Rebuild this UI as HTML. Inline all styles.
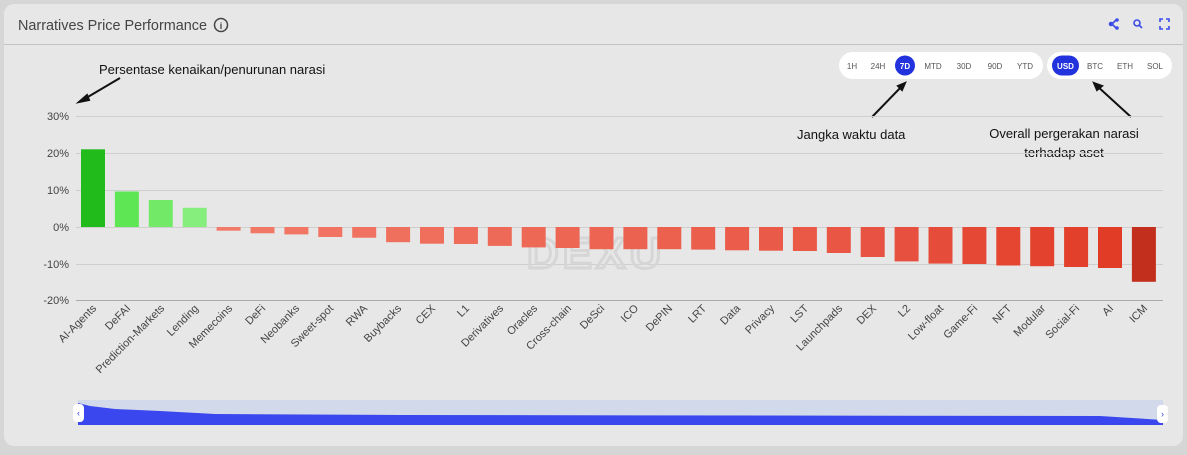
<!DOCTYPE html>
<html><head><meta charset="utf-8"><style>
body{margin:0;background:#d6d6d6;width:1187px;height:450px;overflow:hidden;font-family:"Liberation Sans",sans-serif}
</style></head><body>
<svg width="1187" height="450" viewBox="0 0 1187 450" xmlns="http://www.w3.org/2000/svg" font-family="Liberation Sans, sans-serif">
<rect x="4" y="4" width="1179" height="442" rx="10" fill="#e7e7e7"/>
<line x1="4" y1="44.5" x2="1183" y2="44.5" stroke="#c4c4c4"/>
<text x="18" y="30" font-size="15" fill="#444" textLength="189" lengthAdjust="spacingAndGlyphs">Narratives Price Performance</text>
<circle cx="221" cy="25" r="6.5" fill="none" stroke="#444" stroke-width="1.5"/>
<text x="221" y="29" font-size="9" font-weight="bold" text-anchor="middle" fill="#444">i</text>
<g stroke="#3b4be8" stroke-width="1.6" fill="none">
<circle cx="1111" cy="24" r="1.5" fill="#3b4be8"/><path d="M1112 24 L1116 20 M1112 24 L1116 28"/><circle cx="1117" cy="20" r="1"/><circle cx="1117" cy="28" r="1"/>
<circle cx="1137" cy="23" r="3"/><path d="M1139 25 L1142 28"/>
<path d="M1160 22v-3h3 M1166 19h3v3 M1169 26v3h-3 M1163 29h-3v-3"/>
</g>
<rect x="839" y="52" width="204" height="27" rx="13.5" fill="#fff"/>
<g font-size="8" fill="#555" text-anchor="middle">
<text x="852" y="69">1H</text><text x="878" y="69">24H</text>
<circle cx="905" cy="65.5" r="10" fill="#2233dd"/><text x="905" y="69" fill="#fff" font-weight="bold">7D</text>
<text x="933" y="69">MTD</text><text x="964" y="69">30D</text><text x="995" y="69">90D</text><text x="1025" y="69">YTD</text>
</g>
<rect x="1047" y="52" width="125" height="27" rx="13.5" fill="#fff"/>
<g font-size="8" fill="#555" text-anchor="middle">
<rect x="1052" y="55.5" width="27" height="20" rx="10" fill="#2233dd"/><text x="1065.5" y="69" fill="#fff" font-weight="bold">USD</text>
<text x="1095" y="69">BTC</text><text x="1125" y="69">ETH</text><text x="1155" y="69">SOL</text>
</g>
<text x="99" y="74" font-size="13" fill="#111">Persentase kenaikan/penurunan narasi</text>
<path d="M120 78 L81 101" stroke="#111" stroke-width="2"/><path d="M79 102 L87 95 L89 100Z" fill="#111" stroke="#111" stroke-width="2"/>
<text x="797" y="139" font-size="13" fill="#111">Jangka waktu data</text>
<path d="M872 117 L903 85" stroke="#111" stroke-width="2"/><path d="M905 83 L898 86 L902 90Z" fill="#111" stroke="#111" stroke-width="2"/>
<text x="1064" y="138" font-size="13" fill="#111" text-anchor="middle">Overall pergerakan narasi</text>
<text x="1064" y="157" font-size="13" fill="#111" text-anchor="middle">terhadap aset</text>
<path d="M1131 117 L1096 85" stroke="#111" stroke-width="2"/><path d="M1094 83 L1102 86 L1097 90Z" fill="#111" stroke="#111" stroke-width="2"/>
<g stroke="#cfcfcf" stroke-width="1">
<line x1="76" y1="116.5" x2="1163" y2="116.5"/><line x1="76" y1="153.5" x2="1163" y2="153.5"/>
<line x1="76" y1="190.5" x2="1163" y2="190.5"/><line x1="76" y1="227.5" x2="1163" y2="227.5"/>
<line x1="76" y1="264.5" x2="1163" y2="264.5"/>
</g>
<line x1="76" y1="300.5" x2="1163" y2="300.5" stroke="#aaa"/>
<g font-size="11" fill="#444" text-anchor="end">
<text x="69" y="120">30%</text><text x="69" y="157">20%</text><text x="69" y="194">10%</text>
<text x="69" y="231">0%</text><text x="69" y="268">-10%</text><text x="69" y="304">-20%</text>
</g>
<text x="596" y="268" font-size="44" font-weight="bold" fill="none" stroke="#d6d6d6" stroke-width="3" text-anchor="middle" letter-spacing="4">DEXU</text>
<rect x="81" y="149.3" width="24" height="77.7" fill="#22bb1c"/>
<rect x="114.9" y="191.5" width="24" height="35.5" fill="#5ee655"/>
<rect x="148.8" y="200" width="24" height="27" fill="#72ea68"/>
<rect x="182.7" y="207.8" width="24" height="19.2" fill="#86ee7c"/>
<g>
<rect x="216.6" y="227" width="24" height="3.7" fill="#f27a68"/>
<rect x="250.5" y="227" width="24" height="6.3" fill="#f27866"/>
<rect x="284.4" y="227" width="24" height="7.4" fill="#f17664"/>
<rect x="318.3" y="227" width="24" height="10" fill="#f17462"/>
<rect x="352.2" y="227" width="24" height="10.7" fill="#f07260"/>
<rect x="386.1" y="227" width="24" height="15.2" fill="#f0705e"/>
<rect x="420" y="227" width="24" height="16.7" fill="#ef6e5c"/>
<rect x="453.9" y="227" width="24" height="17" fill="#ef6c5a"/>
<rect x="487.8" y="227" width="24" height="18.9" fill="#ee6a58"/>
<rect x="521.7" y="227" width="24" height="20.4" fill="#ee6856"/>
<rect x="555.6" y="227" width="24" height="21" fill="#ed6654"/>
<rect x="589.5" y="227" width="24" height="22.2" fill="#ed6452"/>
<rect x="623.4" y="227" width="24" height="22.2" fill="#ec6250"/>
<rect x="657.3" y="227" width="24" height="22.2" fill="#ec604e"/>
<rect x="691.2" y="227" width="24" height="22.6" fill="#eb5e4c"/>
<rect x="725.1" y="227" width="24" height="23.3" fill="#eb5c4a"/>
<rect x="759" y="227" width="24" height="23.7" fill="#ea5a48"/>
<rect x="792.9" y="227" width="24" height="24" fill="#ea5846"/>
<rect x="826.8" y="227" width="24" height="26" fill="#e95644"/>
<rect x="860.7" y="227" width="24" height="30" fill="#e85242"/>
<rect x="894.6" y="227" width="24" height="34.4" fill="#e74f3e"/>
<rect x="928.5" y="227" width="24" height="36.6" fill="#e64c3a"/>
<rect x="962.4" y="227" width="24" height="37" fill="#e54936"/>
<rect x="996.3" y="227" width="24" height="38.5" fill="#e44632"/>
<rect x="1030.2" y="227" width="24" height="39.2" fill="#e3432e"/>
<rect x="1064.1" y="227" width="24" height="40" fill="#e2402a"/>
<rect x="1098" y="227" width="24" height="41" fill="#e13d26"/>
<rect x="1131.9" y="227" width="24" height="54.8" fill="#c2301d"/>
</g>
<g font-size="11" fill="#444" text-anchor="end">
<text transform="translate(97,309) rotate(-45)">AI-Agents</text>
<text transform="translate(131,309) rotate(-45)">DeFAI</text>
<text transform="translate(165,309) rotate(-45)">Prediction-Markets</text>
<text transform="translate(199,309) rotate(-45)">Lending</text>
<text transform="translate(233,309) rotate(-45)">Memecoins</text>
<text transform="translate(266,309) rotate(-45)">DeFi</text>
<text transform="translate(300,309) rotate(-45)">Neobanks</text>
<text transform="translate(334,309) rotate(-45)">Sweet-spot</text>
<text transform="translate(368,309) rotate(-45)">RWA</text>
<text transform="translate(402,309) rotate(-45)">Buybacks</text>
<text transform="translate(436,309) rotate(-45)">CEX</text>
<text transform="translate(470,309) rotate(-45)">L1</text>
<text transform="translate(504,309) rotate(-45)">Derivatives</text>
<text transform="translate(538,309) rotate(-45)">Oracles</text>
<text transform="translate(572,309) rotate(-45)">Cross-chain</text>
<text transform="translate(605,309) rotate(-45)">DeSci</text>
<text transform="translate(639,309) rotate(-45)">ICO</text>
<text transform="translate(673,309) rotate(-45)">DePIN</text>
<text transform="translate(707,309) rotate(-45)">LRT</text>
<text transform="translate(741,309) rotate(-45)">Data</text>
<text transform="translate(775,309) rotate(-45)">Privacy</text>
<text transform="translate(809,309) rotate(-45)">LST</text>
<text transform="translate(843,309) rotate(-45)">Launchpads</text>
<text transform="translate(877,309) rotate(-45)">DEX</text>
<text transform="translate(911,309) rotate(-45)">L2</text>
<text transform="translate(944,309) rotate(-45)">Low-float</text>
<text transform="translate(978,309) rotate(-45)">Game-Fi</text>
<text transform="translate(1012,309) rotate(-45)">NFT</text>
<text transform="translate(1046,309) rotate(-45)">Modular</text>
<text transform="translate(1080,309) rotate(-45)">Social-Fi</text>
<text transform="translate(1114,309) rotate(-45)">AI</text>
<text transform="translate(1148,309) rotate(-45)">ICM</text>
</g>
<rect x="78" y="400" width="1085" height="25" fill="#d2d9ea"/>
<path d="M78 403 L90 406 L115 409 L160 411 L215 414 L400 415 L1100 416 L1163 420 L1163 425 L78 425Z" fill="#3a46ee"/>
<rect x="73" y="404" width="11" height="18" rx="4" fill="#fff"/>
<text x="78.5" y="416" font-size="9" fill="#3a46ee" text-anchor="middle">‹</text>
<rect x="1157" y="405" width="11" height="18" rx="4" fill="#fff"/>
<text x="1162.5" y="417" font-size="9" fill="#3a46ee" text-anchor="middle">›</text>
</svg>
</body></html>
